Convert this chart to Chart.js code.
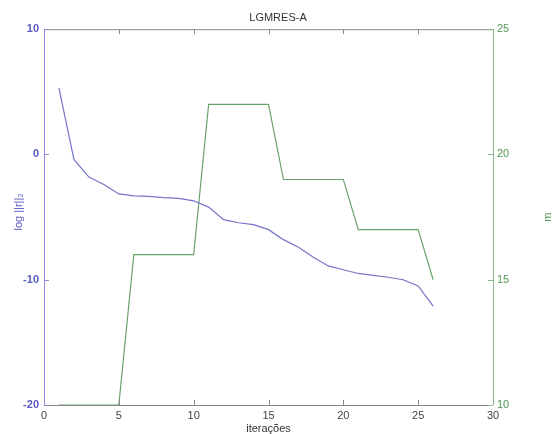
<!DOCTYPE html>
<html>
<head>
<meta charset="utf-8">
<script src="https://cdn.jsdelivr.net/npm/chart.js@4.4.1/dist/chart.umd.min.js"></script>
<style>
  html, body { margin: 0; padding: 0; background: #fff; }
  #wrap { width: 556px; height: 434px; }
</style>
</head>
<body>
<div id="wrap"><canvas id="lgmresChart"></canvas></div>
<script>
// iterations and the two series
const iterations = [1, 2, 3, 4, 5, 6, 7, 8, 9, 10, 11, 12, 13, 14, 15, 16, 17, 18, 19, 20, 21, 22, 23, 24, 25, 26];
const logResidual = [5.3, -0.4, -1.8, -2.4, -3.15, -3.3, -3.35, -3.45, -3.5, -3.7, -4.2, -5.2, -5.45, -5.6, -6.0, -6.8, -7.4, -8.2, -8.9, -9.2, -9.5, -9.65, -9.8, -10.0, -10.5, -12.1];
const mValues = [10, 10, 10, 10, 10, 16, 16, 16, 16, 16, 22, 22, 22, 22, 22, 19, 19, 19, 19, 19, 17, 17, 17, 17, 17, 15];
const xTicks = [0, 5, 10, 15, 20, 25, 30];
const leftTicks = [-20, -10, 0, 10];
const rightTicks = [10, 15, 20, 25];

const blueLine = '#7474c8';
const blueText = '#5a5ac4';
const greenLine = '#6aa36a';
const greenText = '#4f944f';
const fontFam = '"Liberation Sans", Arial, sans-serif';

function toPoints(xs, ys) {
    return xs.map((x, i) => ({ x: x, y: ys[i] }));
}

// matlab style box with inward ticks + rotated axis labels
const boxPlugin = {
    id: 'boxPlugin',
    afterDraw(chart) {
        const ctx = chart.ctx;
        const a = chart.chartArea;
        const sx = chart.scales.x, sl = chart.scales.y, sr = chart.scales.y1;
        ctx.save();
        ctx.lineWidth = 1;
        // top + bottom
        ctx.strokeStyle = '#8a8a8a';
        ctx.beginPath();
        ctx.moveTo(a.left, a.top + 0.5); ctx.lineTo(a.right, a.top + 0.5);
        ctx.moveTo(a.left, a.bottom + 0.5); ctx.lineTo(a.right, a.bottom + 0.5);
        xTicks.forEach(v => {
            const px = Math.round(sx.getPixelForValue(v)) + 0.5;
            ctx.moveTo(px, a.bottom); ctx.lineTo(px, a.bottom - 5);
            ctx.moveTo(px, a.top); ctx.lineTo(px, a.top + 5);
        });
        ctx.stroke();
        // left
        ctx.strokeStyle = '#8c8ce0';
        ctx.beginPath();
        ctx.moveTo(a.left + 0.5, a.top); ctx.lineTo(a.left + 0.5, a.bottom);
        leftTicks.forEach(v => {
            const py = Math.round(sl.getPixelForValue(v)) + 0.5;
            ctx.moveTo(a.left, py); ctx.lineTo(a.left + 5, py);
        });
        ctx.stroke();
        // right
        ctx.strokeStyle = '#8ab88a';
        ctx.beginPath();
        ctx.moveTo(a.right + 0.5, a.top); ctx.lineTo(a.right + 0.5, a.bottom);
        rightTicks.forEach(v => {
            const py = Math.round(sr.getPixelForValue(v)) + 0.5;
            ctx.moveTo(a.right, py); ctx.lineTo(a.right - 5, py);
        });
        ctx.stroke();

        ctx.font = '11px ' + fontFam;
        ctx.textAlign = 'center';
        ctx.textBaseline = 'middle';
        const midY = (a.top + a.bottom) / 2;
        // left axis title
        ctx.save();
        ctx.fillStyle = blueText;
        ctx.translate(19, 212);
        ctx.rotate(-Math.PI / 2);
        ctx.fillText('log ||r||₂', 0, 0);
        ctx.restore();
        // right axis title
        ctx.fillStyle = greenText;
        ctx.translate(548, midY);
        ctx.rotate(-Math.PI / 2);
        ctx.fillText('m', 0, 0);
        ctx.restore();
    }
};

const ctx = document.getElementById('lgmresChart').getContext('2d');
new Chart(ctx, {
    type: 'line',
    data: {
        datasets: [{
            label: 'log ||r||2',
            data: toPoints(iterations, logResidual),
            borderColor: blueLine,
            borderWidth: 1.2,
            pointRadius: 0,
            tension: 0,
            yAxisID: 'y'
        }, {
            label: 'm',
            data: toPoints(iterations, mValues),
            borderColor: greenLine,
            borderWidth: 1.2,
            pointRadius: 0,
            tension: 0,
            yAxisID: 'y1'
        }]
    },
    options: {
        responsive: true,
        maintainAspectRatio: false,
        animation: false,
        layout: { padding: 0 },
        plugins: {
            legend: { display: false },
            tooltip: { enabled: false },
            title: {
                display: true,
                text: 'LGMRES-A',
                color: '#333',
                font: { family: fontFam, size: 11, weight: 'normal' },
                padding: { top: 11, bottom: 5 }
            }
        },
        scales: {
            x: {
                type: 'linear',
                min: 0,
                max: 30,
                afterBuildTicks: s => { s.ticks = xTicks.map(v => ({ value: v })); },
                afterFit: s => { s.height = 29; },
                grid: { display: false, drawTicks: false },
                border: { display: false },
                ticks: { color: '#444', padding: 4, font: { family: fontFam, size: 11 } },
                title: {
                    display: true,
                    text: 'iterações',
                    color: '#333',
                    padding: { top: 0, bottom: -2 },
                    font: { family: fontFam, size: 11 }
                }
            },
            y: {
                type: 'linear',
                position: 'left',
                min: -20,
                max: 10,
                afterBuildTicks: s => { s.ticks = leftTicks.map(v => ({ value: v })); },
                afterFit: s => { s.width = 44; },
                grid: { display: false, drawTicks: false },
                border: { display: false },
                ticks: { color: blueText, padding: 5, font: { family: fontFam, size: 11, weight: 'bold' } }
            },
            y1: {
                type: 'linear',
                position: 'right',
                min: 10,
                max: 25,
                afterBuildTicks: s => { s.ticks = rightTicks.map(v => ({ value: v })); },
                afterFit: s => { s.width = 63; },
                grid: { display: false, drawTicks: false },
                border: { display: false },
                ticks: { color: greenText, padding: 4, font: { family: fontFam, size: 11 } }
            }
        }
    },
    plugins: [boxPlugin]
});
</script>
</body>
</html>
